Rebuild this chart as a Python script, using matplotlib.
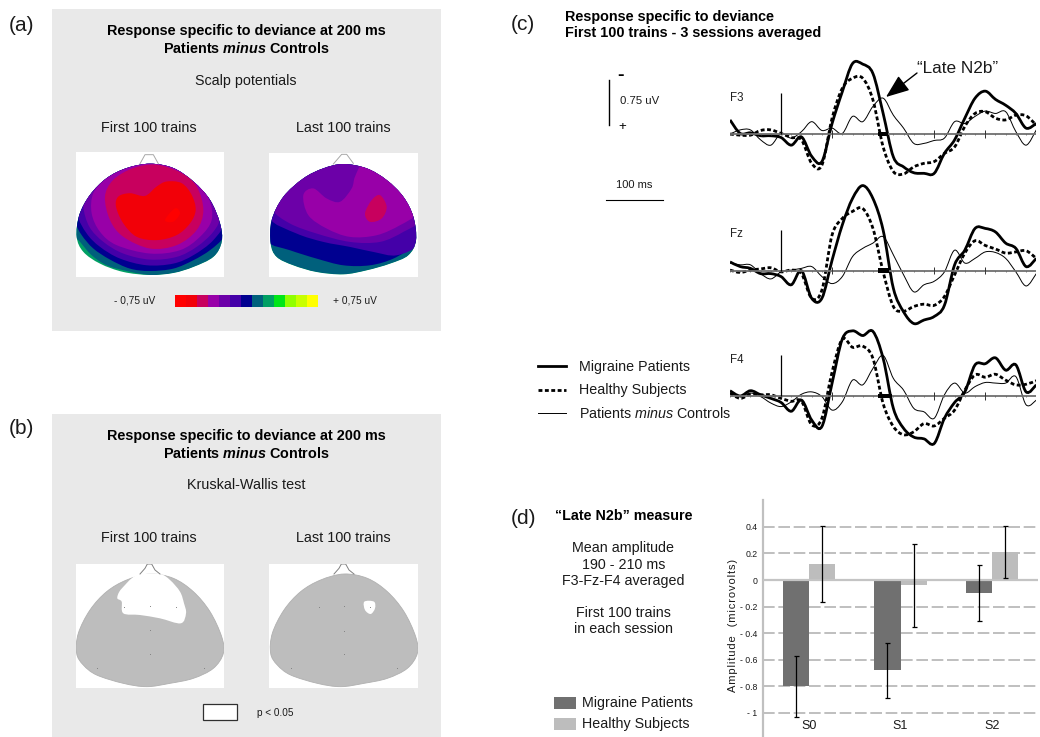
import numpy as np
import matplotlib
matplotlib.use("Agg")
import matplotlib.pyplot as plt
from matplotlib.colors import ListedColormap
from matplotlib.patches import PathPatch, Rectangle
from matplotlib.path import Path

plt.rcParams['font.family'] = ['Liberation Sans', 'DejaVu Sans']
plt.rcParams['mathtext.fontset'] = 'custom'
plt.rcParams['mathtext.it'] = 'Liberation Sans:italic'
plt.rcParams['mathtext.bfit'] = 'Liberation Sans:italic:bold'

W, H = 1040, 737

# ERP traces in uV (negative is drawn upward), one value every 20 ms from -100 to 500 ms
times = np.arange(-100, 501, 20)

f3_patients = [-0.24, -0.01, -0.02, 0.03, 0.03, 0.06, 0.19, 0.05, 0.38, 0.47, -0.18, -0.72, -1.20, -1.19, -1.03, -0.35,
               0.39, 0.56, 0.66, 0.67, 0.67, 0.33, 0.10, -0.27, -0.61, -0.73, -0.59, -0.49, -0.35, -0.10, -0.18]
f3_healthy = [0, 0.02, 0.02, -0.06, -0.07, -0.01, 0.06, 0.10, 0.50, 0.53, -0.27, -0.78, -0.95, -0.95, -0.58, 0.22,
              0.64, 0.68, 0.56, 0.50, 0.47, 0.33, 0.22, -0.13, -0.35, -0.38, -0.27, -0.24, -0.32, -0.31, -0.15]
f3_diff = [0, -0.07, -0.07, 0.10, 0.19, -0.01, 0.07, -0.04, -0.21, -0.06, -0.10, -0.01, -0.30, -0.21, -0.47, -0.61,
           -0.32, -0.10, 0.16, 0.16, 0.11, 0.07, -0.21, -0.18, -0.30, -0.39, -0.35, -0.38, -0.04, 0.19, -0.07]

fz_patients = [-0.15, -0.07, -0.04, 0.05, 0.05, 0.10, 0.24, 0, 0.47, 0.47, -0.18, -0.78, -1.23, -1.45, -1.23, -0.69,
               0.30, 0.70, 0.90, 0.84, 0.78, 0.59, -0.10, -0.35, -0.72, -0.72, -0.66, -0.47, -0.38, -0.07, -0.21]
fz_healthy = [-0.01, 0.03, -0.01, -0.03, -0.05, 0.02, -0.01, 0.05, 0.47, 0.33, -0.61, -0.89, -1.01, -1.06, -0.72, 0.02,
              0.61, 0.69, 0.61, 0.57, 0.59, 0.44, 0.07, -0.30, -0.51, -0.43, -0.37, -0.30, -0.32, -0.34, -0.21]
fz_diff = [-0.13, -0.10, -0.10, 0.05, 0.14, 0.02, -0.01, -0.04, -0.07, 0.10, 0.22, 0.10, -0.24, -0.38, -0.47, -0.58,
           -0.27, 0.07, 0.36, 0.24, 0.18, 0.02, -0.35, -0.13, -0.21, -0.32, -0.31, -0.21, 0.02, 0.26, 0.05]

f4_patients = [-0.09, 0, -0.09, -0.02, 0.04, 0.11, 0.26, 0.07, 0.41, 0.52, -0.22, -0.97, -1.11, -1.03, -1.10, -0.64,
               0.21, 0.55, 0.70, 0.73, 0.81, 0.38, 0.11, -0.07, -0.53, -0.55, -0.65, -0.44, -0.53, -0.07, -0.19]
f4_healthy = [-0.05, 0.04, -0.03, -0.02, -0.02, 0.04, 0.09, 0.09, 0.49, 0.38, -0.41, -0.97, -0.83, -0.85, -0.64, 0.13,
              0.52, 0.66, 0.61, 0.47, 0.51, 0.38, 0.24, -0.10, -0.36, -0.32, -0.37, -0.27, -0.19, -0.20, -0.26]
f4_diff = [-0.05, 0.01, -0.05, 0.01, 0.12, 0.18, 0.10, -0.03, -0.07, 0.01, 0.24, 0.10, -0.27, -0.19, -0.47, -0.69,
           -0.30, -0.10, 0.21, 0.27, 0.38, -0.02, -0.22, -0.05, -0.16, -0.23, -0.22, -0.22, -0.33, 0.15, 0.07]

# bars of panel (d)
sessions = ['S0', 'S1', 'S2']
patients_mean = [-0.80, -0.68, -0.10]
patients_err = [0.23, 0.21, 0.21]
healthy_mean = [0.12, -0.04, 0.21]
healthy_err = [0.283, 0.31, 0.197]
amp_ticks = [0.4, 0.2, 0, -0.2, -0.4, -0.6, -0.8, -1]
amp_labels = ['0.4', '0.2', '0', '- 0.2', '- 0.4', '- 0.6', '- 0.8', '- 1']

# colour scale of the scalp maps
scale_colors = ['#ff0000', '#f20008', '#c8005e', '#9800a8', '#6c00a8', '#4400a8', '#000090', '#00607c',
                '#00a064', '#00e618', '#90ff00', '#c8ff00', '#ffff00']

# scalp map outlines
first_head = [(300, 192), (370, 205), (430, 245), (480, 300), (510, 370), (515, 425), (490, 470), (430, 500),
              (370, 518), (300, 524), (220, 515), (150, 490), (100, 455), (80, 410), (88, 345), (120, 285),
              (170, 235), (230, 205)]
first_bands = [
    (7, [(300, 180), (370, 195), (440, 235), (490, 295), (525, 370), (525, 425), (490, 470), (430, 500), (370, 518),
         (300, 524), (230, 512), (170, 495), (125, 465), (90, 425), (70, 400), (78, 345), (110, 280), (165, 225),
         (230, 195)]),
    (6, [(300, 180), (370, 195), (440, 235), (490, 295), (525, 370), (520, 412), (480, 450), (430, 480), (370, 505),
         (300, 512), (240, 505), (180, 478), (130, 445), (95, 405), (78, 370), (78, 330), (110, 280), (165, 225),
         (230, 195)]),
    (5, [(300, 180), (370, 195), (440, 235), (490, 295), (525, 360), (490, 420), (430, 465), (370, 490), (290, 495),
         (210, 475), (150, 440), (110, 400), (85, 345), (110, 280), (165, 225), (230, 195)]),
    (4, [(300, 180), (370, 195), (440, 235), (490, 295), (510, 350), (490, 395), (440, 440), (380, 470), (300, 478),
         (220, 460), (160, 425), (118, 380), (100, 320), (110, 280), (165, 225), (230, 195)]),
    (3, [(300, 185), (380, 200), (440, 245), (478, 300), (485, 360), (450, 410), (390, 450), (300, 460), (200, 435),
         (150, 395), (125, 340), (130, 280), (170, 235), (230, 205)]),
    (2, [(320, 195), (395, 220), (440, 260), (460, 330), (440, 390), (380, 435), (300, 445), (220, 410), (180, 360),
         (165, 290), (190, 240), (250, 205)]),
    (1, [(198, 320), (205, 290), (240, 280), (285, 288), (320, 260), (350, 245), (395, 250), (425, 285), (437, 330),
         (420, 370), (380, 405), (320, 420), (260, 410), (220, 370)]),
    (0, [(345, 360), (375, 325), (390, 340), (370, 365)]),
]
first_nose = [(270, 192), (285, 165), (310, 165), (325, 192)]

last_head = [(880, 192), (950, 205), (1010, 240), (1060, 290), (1090, 350), (1098, 420), (1075, 465), (1020, 490),
             (950, 510), (880, 522), (800, 515), (730, 495), (680, 470), (662, 430), (665, 360), (700, 290),
             (760, 235), (820, 205)]
last_bands = [
    (7, last_head),
    (6, [(880, 180), (950, 195), (1020, 230), (1070, 285), (1100, 350), (1105, 410), (1085, 440), (1030, 475),
         (960, 495), (880, 495), (800, 475), (720, 450), (655, 425), (655, 360), (690, 285), (755, 225), (820, 195)]),
    (5, [(880, 180), (950, 195), (1020, 230), (1070, 285), (1100, 350), (1105, 430), (1040, 465), (970, 455),
         (900, 440), (820, 425), (740, 400), (660, 355), (690, 285), (755, 225), (820, 195)]),
    (4, [(880, 180), (950, 195), (1020, 230), (1070, 285), (1105, 360), (1060, 395), (990, 425), (900, 425),
         (800, 400), (720, 370), (670, 330), (690, 285), (755, 225), (820, 195)]),
    (3, [(760, 285), (790, 265), (830, 295), (870, 305), (905, 265), (915, 230), (940, 195), (1010, 225), (1060, 280),
         (1095, 340), (1050, 375), (980, 405), (900, 410), (830, 385), (775, 345)]),
    (2, [(945, 340), (965, 300), (990, 285), (1010, 320), (995, 355), (960, 365)]),
]
last_nose = [(850, 192), (875, 163), (890, 163), (910, 190)]

kw_head_left = [(270, 72), (340, 85), (400, 125), (450, 185), (485, 260), (490, 310), (460, 355), (400, 385),
                (330, 400), (260, 410), (190, 400), (110, 375), (70, 345), (50, 310), (55, 250), (90, 180),
                (140, 125), (200, 90)]
kw_nose_left = [(240, 72), (255, 55), (262, 42), (275, 42), (285, 60), (300, 72)]
kw_blob_left = [(215, 85), (240, 72), (300, 72), (330, 90), (360, 125), (372, 160), (378, 190), (362, 220), (300, 205),
                (240, 195), (190, 190), (185, 155), (172, 145), (178, 125), (195, 105)]
kw_dots_left = [(193, 170), (270, 167), (347, 170), (270, 240), (270, 313), (110, 355), (432, 355)]
kw_head_right = [(852, 72), (922, 85), (982, 125), (1032, 185), (1067, 260), (1072, 310), (1042, 355), (982, 385),
                 (912, 400), (842, 410), (772, 400), (692, 375), (652, 345), (632, 310), (637, 250), (672, 180),
                 (722, 125), (782, 90)]
kw_nose_right = [(822, 72), (837, 55), (844, 42), (857, 42), (867, 60), (882, 72)]
kw_blob_right = [(913, 155), (942, 155), (945, 175), (932, 192), (915, 180)]
kw_dots_right = [(777, 172), (853, 168), (930, 172), (853, 242), (853, 313), (692, 355), (1012, 355)]


def smoothPath(points, closed=True):
    # bezier curve through the read points (catmull-rom handles)
    pts = np.asarray(points, dtype=float)
    if closed:
        prev, nxt = np.roll(pts, 1, axis=0), np.roll(pts, -1, axis=0)
        n = len(pts)
    else:
        prev = np.vstack([pts[0], pts[:-1]])
        nxt = np.vstack([pts[1:], pts[-1]])
        n = len(pts) - 1
    tang = (nxt - prev) / 6.0
    verts = [pts[0]]
    codes = [Path.MOVETO]
    for i in range(n):
        j = (i + 1) % len(pts)
        verts += [pts[i] + tang[i], pts[j] - tang[j], pts[j]]
        codes += [Path.CURVE4] * 3
    return Path(verts, codes)


def pxAxes(x0, y0, x1, y1):
    # axes placed with picture pixels, y counted from the top
    return fig.add_axes([x0 / W, 1 - y1 / H, (x1 - x0) / W, (y1 - y0) / H])


def mapAxes(box, xlim, ylim):
    ax = pxAxes(*box)
    ax.set_xlim(*xlim)
    ax.set_ylim(*ylim)
    ax.set_facecolor('white')
    ax.set_xticks([])
    ax.set_yticks([])
    for s in ax.spines.values():
        s.set_visible(False)
    return ax


def drawScalpMap(box, xlim, ylim, head, bands, nose):
    ax = mapAxes(box, xlim, ylim)
    ax.plot(*zip(*nose), color='#a8a8a8', lw=0.7)
    head_path = smoothPath(head)
    ax.add_patch(PathPatch(head_path, fc=scale_colors[8], ec='none'))
    for level, outline in bands:
        p = PathPatch(smoothPath(outline), fc=scale_colors[level], ec='none')
        ax.add_patch(p)
        p.set_clip_path(head_path, ax.transData)


def drawStatMap(box, xlim, ylim, head, blob, nose, dots):
    ax = mapAxes(box, xlim, ylim)
    ax.plot(*zip(*nose), color='#808080', lw=0.7)
    ax.add_patch(PathPatch(smoothPath(head), fc='#bdbdbd', ec='#b0b0b0', lw=0.6))
    ax.add_patch(PathPatch(smoothPath(blob), fc='white', ec='none'))
    ax.plot(*zip(*dots), ls='none', marker='s', ms=0.6, mew=0, color='#808080')


def drawCurve(ax, values, **kw):
    ax.add_patch(PathPatch(smoothPath(np.column_stack([times, values]), closed=False), fc='none', ec='black',
                           capstyle='butt', **kw))


def drawTraces(baseline_y, patients, healthy, diff, name, bar_end):
    # 306.3 px across 600 ms, 58.7 px per uV, negative up
    ax = pxAxes(730, baseline_y - 100, 1036.3, baseline_y + 100)
    ax.set_xlim(-100, 500)
    ax.set_ylim(100 / 58.7, -100 / 58.7)
    ax.axis('off')
    ax.axhline(0, color='#707070', lw=1.3)
    ax.vlines([100, 300, 400, 500], -0.06, 0.06, color='#303030', lw=0.7)
    ax.vlines(np.arange(-100, 501, 20), 0, 0.02, color='#505050', lw=0.5)
    ax.vlines(0, -0.70, 0, color='black', lw=0.9)
    drawCurve(ax, diff, lw=0.7)
    drawCurve(ax, healthy, lw=2.0, ls=(0, (1.4, 0.9)))
    drawCurve(ax, patients, lw=2.0)
    ax.add_patch(Rectangle((190, -0.04), bar_end - 190, 0.08, fc='black', ec='none', zorder=5))
    ax.text(-100, -0.62, name, fontsize=8.3, color='#222222', va='center')


fig = plt.figure(figsize=(W / 100, H / 100), dpi=100, facecolor='white')

bg = fig.add_axes([0, 0, 1, 1])
bg.set_xlim(0, W)
bg.set_ylim(H, 0)
bg.axis('off')
bg.add_patch(Rectangle((52, 9), 389, 322, fc='#e9e9e9', ec='none'))
bg.add_patch(Rectangle((52, 414), 389, 323, fc='#e9e9e9', ec='none'))

txt = '#1a1a1a'
for label, x, y in [('(a)', 9, 25), ('(b)', 9, 428), ('(c)', 511, 24), ('(d)', 511, 518)]:
    bg.text(x, y, label, fontsize=15, color=txt, va='center')

for y0 in (0, 405):
    bg.text(246, 31 + y0, 'Response specific to deviance at 200 ms', fontsize=10.4, fontweight='bold',
            ha='center', va='center', color='black')
    bg.text(246, 48 + y0, 'Patients $\\mathbfit{minus}$ Controls', fontsize=10.4, fontweight='bold',
            ha='center', va='center', color='black')
    bg.text(149, 128 + y0 + (0 if y0 == 0 else 5), 'First 100 trains', fontsize=10.4, ha='center', va='center', color=txt)
    bg.text(343, 128 + y0 + (0 if y0 == 0 else 5), 'Last 100 trains', fontsize=10.4, ha='center', va='center', color=txt)
bg.text(246, 81, 'Scalp potentials', fontsize=10.3, ha='center', va='center', color=txt)
bg.text(246, 485, 'Kruskal-Wallis test', fontsize=10.4, ha='center', va='center', color=txt)

bg.text(135, 300, '- 0,75 uV', fontsize=7.3, ha='center', va='center', color=txt)
bg.text(355, 300, '+ 0,75 uV', fontsize=7.3, ha='center', va='center', color=txt)
bg.add_patch(Rectangle((203, 704), 34, 16, fc='white', ec='#303030', lw=0.9))
bg.text(257, 713, 'p < 0.05', fontsize=7.2, va='center', color=txt)

# panel (c) header, calibration, legend
bg.text(565, 17, 'Response specific to deviance', fontsize=10.4, fontweight='bold', va='center', color='black')
bg.text(565, 33, 'First 100 trains - 3 sessions averaged', fontsize=10.4, fontweight='bold', va='center', color='black')
bg.plot([608.5, 608.5], [80, 125], color='black', lw=1)
bg.text(621, 75, '-', fontsize=14, fontweight='bold', ha='center', va='center', color='black')
bg.text(622, 127, '+', fontsize=9.5, ha='center', va='center', color='black')
bg.text(620, 101, '0.75 uV', fontsize=8.2, va='center', color=txt)
bg.text(634, 185, '100 ms', fontsize=8, ha='center', va='center', color=txt)
bg.plot([606, 663], [200, 200], color='black', lw=0.8)

bg.plot([538, 566], [366, 366], color='black', lw=2)
bg.plot([538, 566], [390, 390], color='black', lw=2, ls=(0, (1.4, 0.9)))
bg.plot([538, 566], [413, 413], color='black', lw=0.7)
bg.text(579, 367, 'Migraine Patients', fontsize=10.3, va='center', color=txt)
bg.text(579, 390, 'Healthy Subjects', fontsize=10.3, va='center', color=txt)
bg.text(579, 413, 'Patients $\\mathit{minus}$ Controls', fontsize=10.3, va='center', color=txt)

# panel (d) text
bg.text(623.5, 516, '\u201cLate N2b\u201d measure', fontsize=10.3, fontweight='bold', ha='center', va='center', color='black')
for line, y in [('Mean amplitude', 548), ('190 - 210 ms', 565), ('F3-Fz-F4 averaged', 581),
                ('First 100 trains', 613), ('in each session', 629)]:
    bg.text(623.5, y, line, fontsize=10.3, ha='center', va='center', color=txt)
bg.add_patch(Rectangle((554, 697), 22, 12, fc='#707070', ec='none'))
bg.add_patch(Rectangle((554, 718), 22, 12, fc='#bdbdbd', ec='none'))
bg.text(582, 703, 'Migraine Patients', fontsize=10.3, va='center', color=txt)
bg.text(582, 724, 'Healthy Subjects', fontsize=10.3, va='center', color=txt)

# scalp maps
drawScalpMap((76, 152, 224, 277), (78, 522), (530, 157), first_head, first_bands, first_nose)
drawScalpMap((269, 153, 418, 277), (657, 1104), (530, 159), last_head, last_bands, last_nose)
drawStatMap((76, 564, 224, 688), (48, 492), (414, 42), kw_head_left, kw_blob_left, kw_nose_left, kw_dots_left)
drawStatMap((269, 564, 418, 688), (627, 1074), (414, 42), kw_head_right, kw_blob_right, kw_nose_right, kw_dots_right)

cax = pxAxes(175, 295, 318, 307)
cax.pcolormesh(np.arange(14), [0, 1], [np.arange(13)], cmap=ListedColormap(scale_colors), vmin=0, vmax=12)
cax.axis('off')

# ERP traces
drawTraces(134, f3_patients, f3_healthy, f3_diff, 'F3', 210)
drawTraces(270.7, fz_patients, fz_healthy, fz_diff, 'Fz', 212)
drawTraces(396, f4_patients, f4_healthy, f4_diff, 'F4', 217)

# arrow and label go above the traces
top = fig.add_axes([0, 0, 1, 1])
top.set_xlim(0, W)
top.set_ylim(H, 0)
top.axis('off')
top.annotate('', xy=(886, 97), xytext=(917, 73),
             arrowprops=dict(arrowstyle='-|>,head_length=0.9,head_width=0.35', mutation_scale=16, color='black', lw=1,
                             shrinkA=0, shrinkB=0))
top.text(917, 68, '\u201cLate N2b\u201d', fontsize=12.4, va='center', color=txt)

# panel (d) bars
ax = pxAxes(763, 500, 1038, 737)
ax.patch.set_alpha(0)
ax.set_xlim(-0.5, 2.5)
ax.set_ylim(-157 / 133, 80 / 133)
x = np.arange(len(sessions))
bw = 0.285
for v in amp_ticks:
    if v != 0:
        ax.axhline(v, color='#b4b4b4', lw=1.2, ls=(0, (7, 2.2)), zorder=1)
ax.bar(x - bw / 2, patients_mean, bw, color='#707070', zorder=2)
ax.bar(x + bw / 2, healthy_mean, bw, color='#bdbdbd', zorder=2)
ax.axhline(0, color='#c4c4c4', lw=1.6, zorder=3)
ax.errorbar(x - bw / 2, patients_mean, yerr=patients_err, fmt='none', ecolor='black', elinewidth=0.9,
            capsize=1.8, capthick=0.9, zorder=4)
ax.errorbar(x + bw / 2, healthy_mean, yerr=healthy_err, fmt='none', ecolor='black', elinewidth=0.9,
            capsize=1.8, capthick=0.9, zorder=4)
for side in ('top', 'right', 'bottom'):
    ax.spines[side].set_visible(False)
ax.spines['left'].set_color('#c0c0c0')
ax.spines['left'].set_linewidth(1.6)
ax.set_yticks(amp_ticks)
ax.set_yticklabels(amp_labels, fontsize=6.3, color=txt)
ax.tick_params(axis='y', length=0, pad=4)
ax.set_xticks(x)
ax.set_xticklabels(sessions, fontsize=9, color=txt)
ax.tick_params(axis='x', length=0, pad=-12)
ylabel = '\u200a'.join('Amplitude  (microvolts)')
bg.text(733.5, 625, ylabel, fontsize=8, rotation=90, ha='center', va='center', color=txt)

fig.savefig('out.png', dpi=100)
